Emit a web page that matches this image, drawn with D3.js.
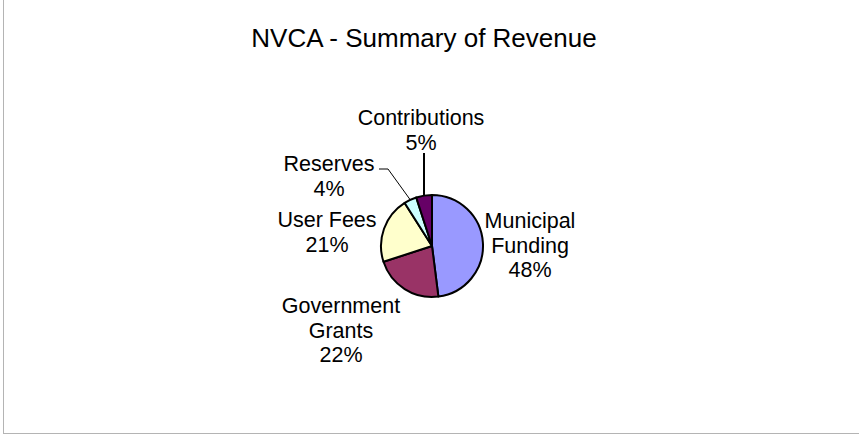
<!DOCTYPE html>
<html>
<head>
<meta charset="utf-8">
<script src="https://cdn.jsdelivr.net/npm/d3@7"></script>
<style>
  html, body { margin: 0; padding: 0; background: #fff; }
  svg { display: block; font-family: "Liberation Sans", Arial, sans-serif; }
</style>
</head>
<body>
<svg id="chart" width="859" height="435"></svg>
<script>
const title = "NVCA - Summary of Revenue";
const categories = ["Municipal Funding", "Government Grants", "User Fees", "Reserves", "Contributions"];
const values = [48, 22, 21, 4, 5];
const colors = ["#9999FF", "#993366", "#FFFFCC", "#CCFFFF", "#660066"];
const labelLines = [["Municipal", "Funding"], ["Government", "Grants"], ["User Fees"], ["Reserves"], ["Contributions"]];

const svg = d3.select("#chart");
const W = 859, H = 435;

// border (left and bottom visible)
svg.append("rect")
  .attr("x", 3.5).attr("y", -5)
  .attr("width", 900).attr("height", 438.5)
  .attr("fill", "none").attr("stroke", "#b4b4b4").attr("stroke-width", 1);

svg.append("text")
  .attr("x", 424).attr("y", 47)
  .attr("text-anchor", "middle")
  .attr("font-size", 26)
  .attr("fill", "#000")
  .text(title);

const cx = 432, cy = 246, r = 51;
const total = d3.sum(values);
const pie = d3.pie().sort(null).value(d => d)(values);
const arc = d3.arc().innerRadius(0).outerRadius(r);

const g = svg.append("g").attr("transform", `translate(${cx},${cy})`);
g.selectAll("path").data(pie).join("path")
  .attr("d", arc)
  .attr("fill", (d, i) => colors[i])
  .attr("stroke", "#000")
  .attr("stroke-width", 2)
  .attr("stroke-linejoin", "round");

// label anchor positions (center x, first baseline y)
const labelPos = [
  [530, 228],
  [341, 313],
  [327, 227],
  [329, 171],
  [421, 125]
];
const lineH = 24.6;
pie.forEach((d, i) => {
  const lines = labelLines[i].concat([Math.round(values[i] / total * 100) + "%"]);
  const t = svg.append("text")
    .attr("text-anchor", "middle")
    .attr("font-size", 21.5)
    .attr("fill", "#000");
  lines.forEach((ln, k) => {
    t.append("tspan")
      .attr("x", labelPos[i][0])
      .attr("y", labelPos[i][1] + k * lineH)
      .text(ln);
  });
});

// leader lines
function edgePoint(d) {
  const a = (d.startAngle + d.endAngle) / 2;
  return [cx + r * Math.sin(a), cy - r * Math.cos(a)];
}
const pRes = edgePoint(pie[3]);
svg.append("polyline")
  .attr("points", [[379, 169], [388, 169], pRes].map(p => p.join(",")).join(" "))
  .attr("fill", "none").attr("stroke", "#000").attr("stroke-width", 1);
const pCon = edgePoint(pie[4]);
svg.append("line")
  .attr("x1", 424).attr("y1", 153)
  .attr("x2", 424).attr("y2", pCon[1])
  .attr("stroke", "#000").attr("stroke-width", 2);
</script>
</body>
</html>
